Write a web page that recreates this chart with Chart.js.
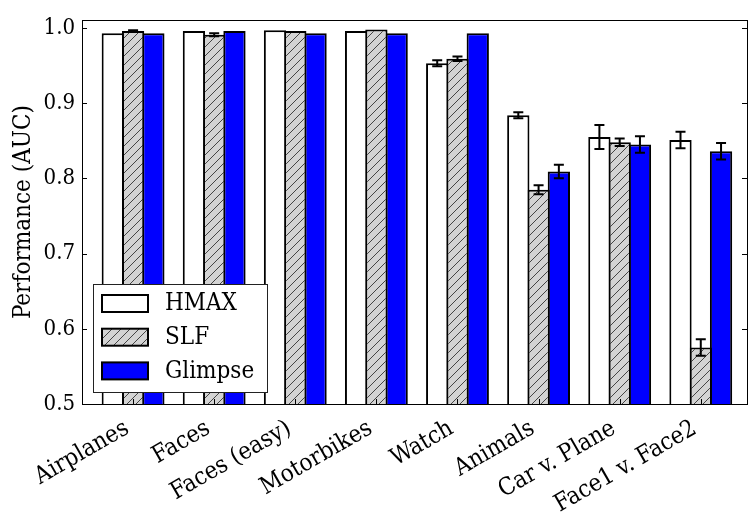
<!DOCTYPE html>
<html>
<head>
<meta charset="utf-8">
<script src="https://cdn.jsdelivr.net/npm/chart.js@4.4.1/dist/chart.umd.min.js"></script>
<style>
  body { margin: 0; background: #fff; }
  #wrap { width: 749px; height: 513px; }
</style>
</head>
<body>
<div id="wrap"><canvas id="perfChart" width="749" height="513"></canvas></div>
<script>
// chart data
const categories = ["Airplanes", "Faces", "Faces (easy)", "Motorbikes", "Watch", "Animals", "Car v. Plane", "Face1 v. Face2"];
const hmaxValues = [0.993, 0.996, 0.997, 0.996, 0.953, 0.884, 0.855, 0.851];
const hmaxErrors = [0, 0, 0, 0, 0.004, 0.004, 0.016, 0.011];
const slfValues = [0.996, 0.991, 0.996, 0.998, 0.959, 0.785, 0.848, 0.575];
const slfErrors = [0.001, 0.002, 0, 0, 0.003, 0.006, 0.005, 0.011];
const glimpseValues = [0.993, 0.996, 0.993, 0.993, 0.993, 0.809, 0.845, 0.836];
const glimpseErrors = [0, 0, 0, 0, 0, 0.009, 0.011, 0.011];
const yTicks = [0.5, 0.6, 0.7, 0.8, 0.9, 1.0];

const serif = "'DejaVu Serif Condensed', 'DejaVu Serif', serif";

// hatch pattern for the SLF bars
function makeHatch() {
  const c = document.createElement("canvas");
  c.width = 9; c.height = 9;
  const g = c.getContext("2d");
  g.fillStyle = "#d3d3d3";
  g.fillRect(0, 0, 9, 9);
  g.strokeStyle = "#444";
  g.lineWidth = 1;
  g.beginPath();
  g.moveTo(0, 9); g.lineTo(9, 0);
  g.moveTo(-1, 1); g.lineTo(1, -1);
  g.moveTo(8, 10); g.lineTo(10, 8);
  g.stroke();
  return g.createPattern(c, "repeat");
}
const hatch = makeHatch();

function toPoints(vals) {
  return vals.map((v, i) => ({ x: i, y: v }));
}

// error bars drawn on top of the bars
const errorBarPlugin = {
  id: "errorBars",
  afterDatasetsDraw(chart) {
    const ctx = chart.ctx;
    const yScale = chart.scales.y;
    ctx.save();
    ctx.strokeStyle = "#000";
    ctx.lineWidth = 2;
    chart.data.datasets.forEach((ds, di) => {
      const meta = chart.getDatasetMeta(di);
      meta.data.forEach((bar, i) => {
        const err = ds.errors[i];
        if (!err) return;
        const v = ds.data[i].y;
        const yTop = yScale.getPixelForValue(v + err);
        const yBot = yScale.getPixelForValue(v - err);
        ctx.beginPath();
        ctx.moveTo(bar.x, yTop); ctx.lineTo(bar.x, yBot);
        ctx.moveTo(bar.x - 5, yTop); ctx.lineTo(bar.x + 5, yTop);
        ctx.moveTo(bar.x - 5, yBot); ctx.lineTo(bar.x + 5, yBot);
        ctx.stroke();
      });
    });
    ctx.restore();
  }
};

// box, inward ticks and legend
const framePlugin = {
  id: "frame",
  afterDraw(chart) {
    const ctx = chart.ctx;
    const a = chart.chartArea;
    const yScale = chart.scales.y;
    const xScale = chart.scales.x;
    ctx.save();
    ctx.strokeStyle = "#000";
    ctx.lineWidth = 1;
    ctx.beginPath();
    yTicks.forEach(t => {
      const py = Math.round(yScale.getPixelForValue(t)) + 0.5;
      ctx.moveTo(a.left, py); ctx.lineTo(a.left + 5, py);
      ctx.moveTo(a.right, py); ctx.lineTo(a.right - 5, py);
    });
    categories.forEach((c, i) => {
      const px = Math.round(xScale.getPixelForValue(i)) + 0.5;
      ctx.moveTo(px, a.bottom); ctx.lineTo(px, a.bottom - 5);
    });
    ctx.stroke();
    ctx.strokeRect(Math.round(a.left) + 0.5, Math.round(a.top) + 0.5,
      Math.round(a.right - a.left), Math.round(a.bottom - a.top));

    // legend
    const lx = 93, ly = 284, lw = 174, lh = 108;
    ctx.fillStyle = "#fff";
    ctx.fillRect(lx, ly, lw, lh);
    ctx.strokeStyle = "#222";
    ctx.strokeRect(lx + 0.5, ly + 0.5, lw, lh);
    ctx.font = "24px " + serif;
    ctx.textBaseline = "middle";
    chart.data.datasets.forEach((ds, i) => {
      const py = 295 + i * 33.7;
      ctx.fillStyle = ds.backgroundColor;
      ctx.fillRect(102, py, 46, 17);
      ctx.strokeStyle = "#000";
      ctx.lineWidth = 2;
      ctx.strokeRect(102, py, 46, 17);
      ctx.fillStyle = "#000";
      ctx.fillText(ds.label, 165, py + 9);
    });
    ctx.restore();
  }
};

const barStyle = {
  borderColor: "#000",
  borderWidth: 2,
  borderSkipped: false,
  categoryPercentage: 0.75,
  barPercentage: 1.1
};

new Chart(document.getElementById("perfChart"), {
  type: "bar",
  data: {
    datasets: [
      Object.assign({ label: "HMAX", data: toPoints(hmaxValues), errors: hmaxErrors, backgroundColor: "#ffffff" }, barStyle),
      Object.assign({ label: "SLF", data: toPoints(slfValues), errors: slfErrors, backgroundColor: hatch }, barStyle),
      Object.assign({ label: "Glimpse", data: toPoints(glimpseValues), errors: glimpseErrors, backgroundColor: "#0000ff" }, barStyle)
    ]
  },
  options: {
    responsive: false,
    animation: false,
    layout: { padding: { top: 8, right: 2, left: 0, bottom: 0 } },
    plugins: {
      legend: { display: false },
      tooltip: { enabled: false }
    },
    scales: {
      x: {
        type: "linear",
        offset: false,
        min: -0.63,
        max: 7.57,
        grid: { display: false, drawTicks: false, offset: false },
        border: { display: false },
        afterBuildTicks(scale) {
          scale.ticks = categories.map((c, i) => ({ value: i }));
        },
        afterFit(scale) { scale.height = 109; },
        ticks: {
          autoSkip: false,
          maxRotation: 30,
          minRotation: 30,
          padding: 7,
          color: "#000",
          font: { family: serif, size: 24 },
          callback: (v) => categories[v] + " "
        }
      },
      y: {
        min: 0.5,
        max: 1.0103,
        grid: { display: false, drawTicks: false },
        border: { display: false },
        afterBuildTicks(scale) {
          scale.ticks = yTicks.map(v => ({ value: v }));
        },
        afterFit(scale) { scale.width = 82; },
        title: {
          display: true,
          text: "Performance (AUC)",
          color: "#000",
          font: { family: serif, size: 24 },
          padding: { top: 9, bottom: 0 }
        },
        ticks: {
          padding: 7,
          color: "#000",
          font: { family: serif, size: 22 },
          callback: (v) => v.toFixed(1)
        }
      }
    }
  },
  plugins: [errorBarPlugin, framePlugin]
});
</script>
</body>
</html>
